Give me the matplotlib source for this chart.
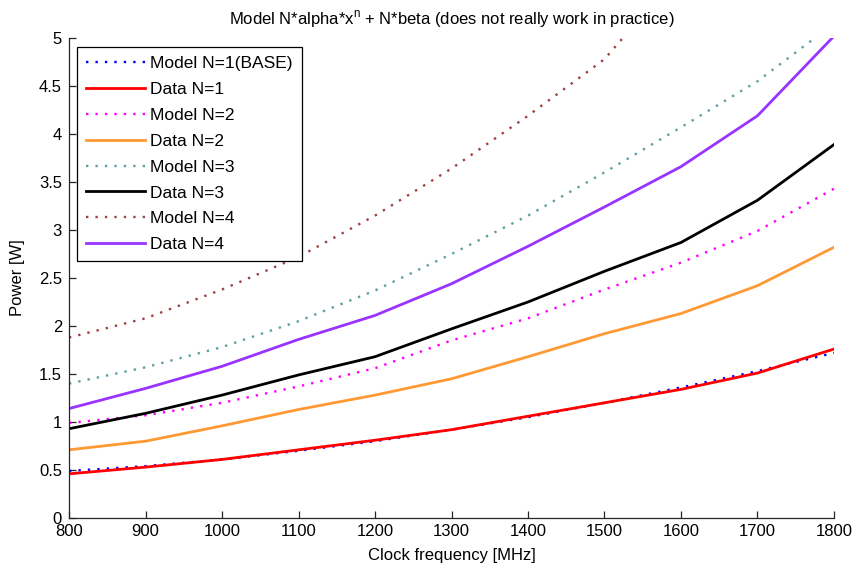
import matplotlib
matplotlib.use("Agg")
import matplotlib.pyplot as plt
from matplotlib.ticker import FormatStrFormatter

plt.rcParams["font.family"] = ["Liberation Sans", "DejaVu Sans"]
plt.rcParams["mathtext.fontset"] = "custom"
plt.rcParams["mathtext.rm"] = "Liberation Sans"

freq = [800, 900, 1000, 1100, 1200, 1300, 1400, 1500, 1600, 1700, 1800]

# values
model_n1 = [0.49, 0.54, 0.61, 0.70, 0.80, 0.92, 1.05, 1.20, 1.36, 1.53, 1.72]
data_n1 = [0.46, 0.53, 0.61, 0.71, 0.81, 0.92, 1.06, 1.20, 1.34, 1.51, 1.76]
model_n2 = [0.99, 1.07, 1.20, 1.37, 1.56, 1.85, 2.08, 2.38, 2.66, 2.99, 3.43]
data_n2 = [0.71, 0.80, 0.96, 1.13, 1.28, 1.45, 1.68, 1.92, 2.13, 2.42, 2.82]
model_n3 = [1.40, 1.57, 1.78, 2.05, 2.37, 2.75, 3.15, 3.60, 4.07, 4.55, 5.15]
data_n3 = [0.93, 1.09, 1.28, 1.49, 1.68, 1.97, 2.25, 2.57, 2.87, 3.31, 3.89]
model_n4 = [1.88, 2.08, 2.38, 2.72, 3.15, 3.64, 4.19, 4.78, 5.70, 6.40, 7.10]
data_n4 = [1.14, 1.35, 1.58, 1.86, 2.11, 2.44, 2.83, 3.24, 3.66, 4.19, 5.02]

series = [
    ("Model N=1(BASE)", model_n1, "#0000ff", "model"),
    ("Data N=1", data_n1, "#ff0000", "data"),
    ("Model N=2", model_n2, "#ff00ff", "model"),
    ("Data N=2", data_n2, "#ff9933", "data"),
    ("Model N=3", model_n3, "#5f9f9f", "model"),
    ("Data N=3", data_n3, "#000000", "data"),
    ("Model N=4", model_n4, "#a04040", "model"),
    ("Data N=4", data_n4, "#9933ff", "data"),
]

fig = plt.figure(figsize=(8.53, 5.69), dpi=100)
ax = fig.add_axes([69 / 853, 51 / 569, 765 / 853, 480 / 569])

for label, ys, color, kind in series:
    if kind == "model":
        ax.plot(freq, ys, color=color, linestyle=(0, (1, 3)), linewidth=1.7, label=label)
    else:
        ax.plot(freq, ys, color=color, linestyle="-", linewidth=2.0, label=label)

ax.set_xlim(800, 1800)
ax.set_ylim(0, 5)
ax.set_xticks(range(800, 1801, 100))
ax.set_yticks([i * 0.5 for i in range(11)])
ax.yaxis.set_major_formatter(FormatStrFormatter("%g"))

for side in ("top", "right"):
    ax.spines[side].set_visible(False)
for side in ("left", "bottom"):
    ax.spines[side].set_linewidth(0.9)
    ax.spines[side].set_color("#262626")
ax.tick_params(direction="in", length=5, width=0.9, color="#262626", labelsize=12)
ax.tick_params(axis="y", pad=5)
ax.tick_params(axis="x", pad=4)

ax.set_xlabel("Clock frequency [MHz]", fontsize=12, labelpad=7)
ax.set_ylabel("Power [W]", fontsize=12, labelpad=10)
ax.set_title(r"Model N*alpha*x$^\mathregular{n}$ + N*beta (does not really work in practice)",
             fontsize=12, pad=10)

leg = ax.legend(loc="upper left", bbox_to_anchor=(0.011, 0.981), borderaxespad=0,
                fontsize=12.5, handlelength=3.4, handletextpad=0.3, labelspacing=0.62,
                borderpad=0.5, fancybox=False, framealpha=1, edgecolor="black")
leg.get_frame().set_linewidth(0.9)

fig.savefig("out.png", dpi=100)
